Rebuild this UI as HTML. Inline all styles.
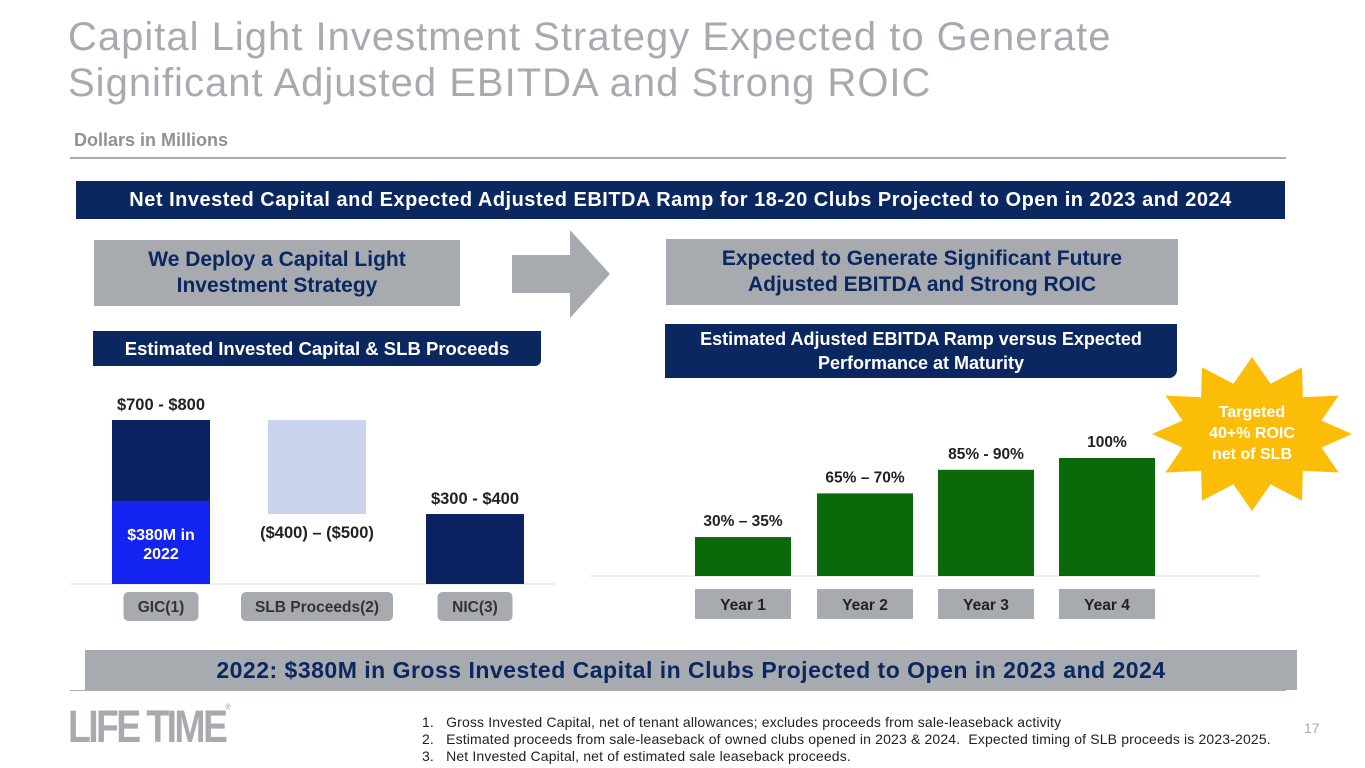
<!DOCTYPE html>
<html><head><meta charset="utf-8"><style>
body{margin:0;width:1365px;height:768px;background:#fff;font-family:"Liberation Sans",sans-serif;position:relative;overflow:hidden}
.a{position:absolute}
.b{font-weight:bold}
.c{text-align:center}
</style></head><body>
<div class="a" style="left:68px;top:14px;font-size:40px;line-height:46px;color:#a7abaf;letter-spacing:1px">Capital Light Investment Strategy Expected to Generate<br>Significant Adjusted EBITDA and Strong ROIC</div>
<div class="a b" style="left:74px;top:130px;font-size:18px;color:#8e9295">Dollars in Millions</div>
<div class="a" style="left:70px;top:157px;width:1216px;height:2px;background:#a7abaf"></div>
<div class="a b c" style="left:76px;top:181px;width:1209px;height:38px;line-height:38px;background:#0b2760;color:#fff;font-size:20px;letter-spacing:0.5px;white-space:nowrap">Net Invested Capital and Expected Adjusted EBITDA Ramp for 18-20 Clubs Projected to Open in 2023 and 2024</div>
<div class="a b c" style="left:94px;top:240px;width:366px;height:66px;background:#a7abaf;color:#0b2760;font-size:21px;line-height:26px;padding-top:7px;box-sizing:border-box">We Deploy a Capital Light<br>Investment Strategy</div>
<svg class="a" style="left:512px;top:230px" width="100" height="90"><polygon points="0,25 58,25 58,0 98,44 58,88 58,63 0,63" fill="#a7abaf"/></svg>
<div class="a b c" style="left:666px;top:239px;width:512px;height:66px;background:#a7abaf;color:#0b2760;font-size:21px;line-height:26px;padding-top:7px;box-sizing:border-box">Expected to Generate Significant Future<br>Adjusted EBITDA and Strong ROIC</div>
<div class="a b c" style="left:93px;top:331px;width:448px;height:35px;line-height:35px;background:#0b2760;color:#fff;font-size:18.5px;border-radius:0 0 6px 0">Estimated Invested Capital &amp; SLB Proceeds</div>
<div class="a b c" style="left:665px;top:324px;width:512px;height:54px;background:#0b2760;color:#fff;font-size:18px;line-height:24px;padding-top:3px;box-sizing:border-box;border-radius:0 0 8px 0">Estimated Adjusted EBITDA Ramp versus Expected<br>Performance at Maturity</div>
<svg class="a" id="chart" style="left:0;top:0" width="1365" height="768"></svg>
<div class="a b c" style="left:85px;top:650px;width:1212px;height:40px;line-height:40px;background:#a7abaf;color:#0b2760;font-size:23px;letter-spacing:0.5px;white-space:nowrap">2022: $380M in Gross Invested Capital in Clubs Projected to Open in 2023 and 2024</div>
<div class="a" style="left:70px;top:690px;width:1216px;height:1px;background:#a7abaf"></div>
<div class="a b" style="left:68px;top:702px;font-size:43px;letter-spacing:-3px;color:#a7abaf;transform:scale(0.87,1.05);transform-origin:left top;white-space:nowrap">LIFE TIME<span style="font-size:8px;vertical-align:top">®</span></div>
<div class="a" style="left:422px;top:714px;font-size:14px;line-height:17px;color:#222;white-space:nowrap;letter-spacing:0.15px">1.&nbsp;&nbsp; Gross Invested Capital, net of tenant allowances; excludes proceeds from sale-leaseback activity<br>2.&nbsp;&nbsp; Estimated proceeds from sale-leaseback of owned clubs opened in 2023 &amp; 2024.&nbsp; Expected timing of SLB proceeds is 2023-2025.<br>3.&nbsp;&nbsp; Net Invested Capital, net of estimated sale leaseback proceeds.</div>
<div class="a" style="left:1304px;top:720px;font-size:14px;color:#a7abaf">17</div>
<script>
const leftCats=["GIC(1)","SLB Proceeds(2)","NIC(3)"];
const leftVals=[750,430,320];
const gic2022=380;
const leftLabels=["$700 - $800","($400) \u2013 ($500)","$300 - $400"];
const rightCats=["Year 1","Year 2","Year 3","Year 4"];
const rightVals=[33,70,90,100];
const rightLabels=["30% \u2013 35%","65% \u2013 70%","85% - 90%","100%"];
const NS="http://www.w3.org/2000/svg";
const svg=document.getElementById('chart');
function mk(t,a,txt){const e=document.createElementNS(NS,t);for(const k in a)e.setAttribute(k,a[k]);if(txt!=null)e.textContent=txt;svg.appendChild(e);return e;}
const lBase=584, lScale=164/750, lX=[112,270,426], lW=98;
const ly=v=>lBase-v*lScale;
let l=mk('line',{x1:70,x2:555,y1:lBase,y2:lBase,stroke:'#ddd'});

let r=mk('rect',{x:lX[0],y:ly(leftVals[0]),width:lW,height:leftVals[0]*lScale,fill:'#0b2260'});

r=mk('rect',{x:lX[0],y:ly(gic2022),width:lW,height:gic2022*lScale,fill:'#1424f0'});

let t=mk('text',{x:lX[0]+lW/2,y:ly(gic2022)+39,'text-anchor':'middle','font-size':16,'font-weight':'bold',fill:'#fff'},'$380M in');

t=mk('text',{x:lX[0]+lW/2,y:ly(gic2022)+58,'text-anchor':'middle','font-size':16,'font-weight':'bold',fill:'#fff'},'2022');

const slbTop=ly(leftVals[0]);
r=mk('rect',{x:lX[1]-2,y:slbTop,width:lW,height:leftVals[1]*lScale,fill:'#c9d3ee'});

r=mk('rect',{x:lX[2],y:ly(leftVals[2]),width:lW,height:leftVals[2]*lScale,fill:'#0b2260'});

const lLabY=[ly(leftVals[0])-10,slbTop+leftVals[1]*lScale+24,ly(leftVals[2])-10];
leftLabels.forEach((s,i)=>{const e=mk('text',{x:lX[i]+lW/2-(i==1?2:0),y:lLabY[i],'text-anchor':'middle','font-size':16.5,'font-weight':'bold',fill:'#222'},s);
});
const pillW=[75,152,75];
leftCats.forEach((s,i)=>{const cx=lX[i]+lW/2-(i==1?2:0);
const p=mk('rect',{x:cx-pillW[i]/2,y:592,width:pillW[i],height:29,rx:5,fill:'#a7abaf'});

const e=mk('text',{x:cx,y:612,'text-anchor':'middle','font-size':15.5,'font-weight':'bold',fill:'#333'},s);
});
const rBase=576, rScale=1.18, rX=[695,817,938,1059], rW=96;
const ry=v=>rBase-v*rScale;
l=mk('line',{x1:590,x2:1260,y1:rBase,y2:rBase,stroke:'#ddd'});

rightVals.forEach((v,i)=>{const b=mk('rect',{x:rX[i],y:ry(v),width:rW,height:v*rScale,fill:'#0a6a0a'});

const e=mk('text',{x:rX[i]+rW/2,y:ry(v)-11,'text-anchor':'middle','font-size':15.5,'font-weight':'bold',fill:'#222'},rightLabels[i]);

const p=mk('rect',{x:rX[i],y:589,width:rW,height:30,fill:'#a7abaf'});

const c=mk('text',{x:rX[i]+rW/2,y:610,'text-anchor':'middle','font-size':15.5,'font-weight':'bold',fill:'#222'},rightCats[i]);
});
let pts=[];const cx=1252,cy=434;
for(let k=0;k<24;k++){const a=-Math.PI/2+k*Math.PI/12;pts.push((cx+Math.cos(a)*(k%2?72:100)).toFixed(1)+','+(cy+Math.sin(a)*(k%2?52:77)).toFixed(1));}
const st=mk('polygon',{points:pts.join(' '),fill:'#fbbd08'});

["Targeted","40+% ROIC","net of SLB"].forEach((s,i)=>{const e=mk('text',{x:cx,y:417+i*21,'text-anchor':'middle','font-size':16,'font-weight':'bold',fill:'#fff'},s);
});
</script>
</body></html>
